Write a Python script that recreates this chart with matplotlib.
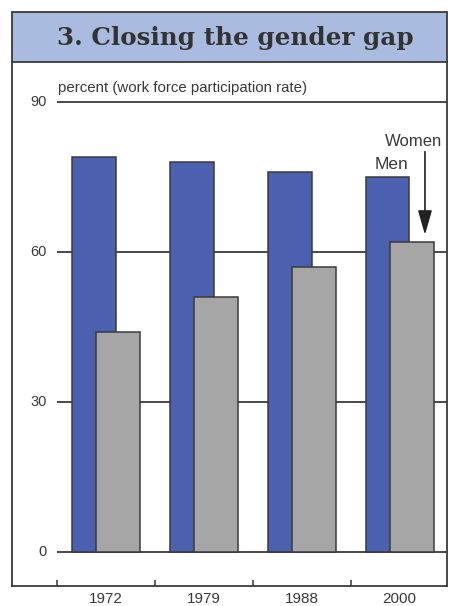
import matplotlib

matplotlib.use("Agg")
import matplotlib.pyplot as plt
from matplotlib.patches import Rectangle

years = ["1972", "1979", "1988", "2000"]
men = [79, 78, 76, 75]
women = [44, 51, 57, 62]
yticks = [0, 30, 60, 90]

INK = "#3a3a3a"
BLUE = "#4b61b0"
GRAY = "#a6a6a6"
BANNER = "#a9bcdf"

plt.rcParams["font.family"] = ["Liberation Sans", "DejaVu Sans"]

W, H = 451, 606
fig = plt.figure(figsize=(W / 100, H / 100), dpi=100)

# boxed panel below the title banner (pixel edges 12..447 x, 62..586 y)
ax = fig.add_axes([12 / W, (H - 586) / H, 435 / W, (586 - 62) / H])
ax.set_xlim(-0.960, 3.483)
ax.set_ylim(-6.69, 97.9)

x = list(range(len(years)))
off, bw = 0.123, 0.445
ax.bar([i - off for i in x], men, width=bw, color=BLUE, edgecolor=INK,
       linewidth=1.1, zorder=3)
ax.bar([i + off for i in x], women, width=bw, color=GRAY, edgecolor=INK,
       linewidth=1.1, zorder=4)

# horizontal rules start at the first category boundary and run to the frame
ax.hlines(yticks, -0.5, 3.483, color=INK, linewidth=1.3, zorder=1)
for v in yticks:
    ax.text(-0.608, v, str(v), ha="right", va="center", fontsize=10.5,
            color=INK)
ax.text(-0.49, 91.9, "percent (work force participation rate)", ha="left",
        va="baseline", fontsize=10.8, color=INK)

# boundary ticks on the frame, year labels centred under each group
ax.set_yticks([])
ax.set_xticks([-0.5, 0.5, 1.5, 2.5])
ax.set_xticklabels([])
ax.tick_params(axis="x", which="major", direction="in", length=4,
               width=1.1, color=INK)
ax.set_xticks(x, labels=years, minor=True)
ax.tick_params(axis="x", which="minor", length=0, pad=4.5, labelsize=11,
               labelcolor=INK)

for side in ("left", "right", "bottom"):
    ax.spines[side].set_color(INK)
    ax.spines[side].set_linewidth(1.3)
ax.spines["top"].set_visible(False)

# direct labels for the two series
ax.text(2.85, 81.1, "Women", ha="left", va="baseline", fontsize=12,
        color=INK)
ax.text(2.915, 76.5, "Men", ha="center", va="baseline", fontsize=12.5,
        color=INK)
ax.annotate("", xy=(3.258, 63.4), xytext=(3.258, 80.0),
            arrowprops=dict(arrowstyle="-|>,head_length=1.5,head_width=0.43",
                            mutation_scale=10, color="#222222", lw=1.2,
                            shrinkA=0, shrinkB=0))

# title banner
fig.patches.append(Rectangle((12 / W, (H - 62) / H), 435 / W, 50 / H,
                             transform=fig.transFigure, facecolor=BANNER,
                             edgecolor=INK, linewidth=1.3))
fig.text(57 / W, (H - 45) / H, "3. Closing the gender gap",
         family="DejaVu Serif", weight="bold", fontsize=17.7,
         color="#333333", ha="left", va="baseline")

fig.savefig("out.png", dpi=100)
